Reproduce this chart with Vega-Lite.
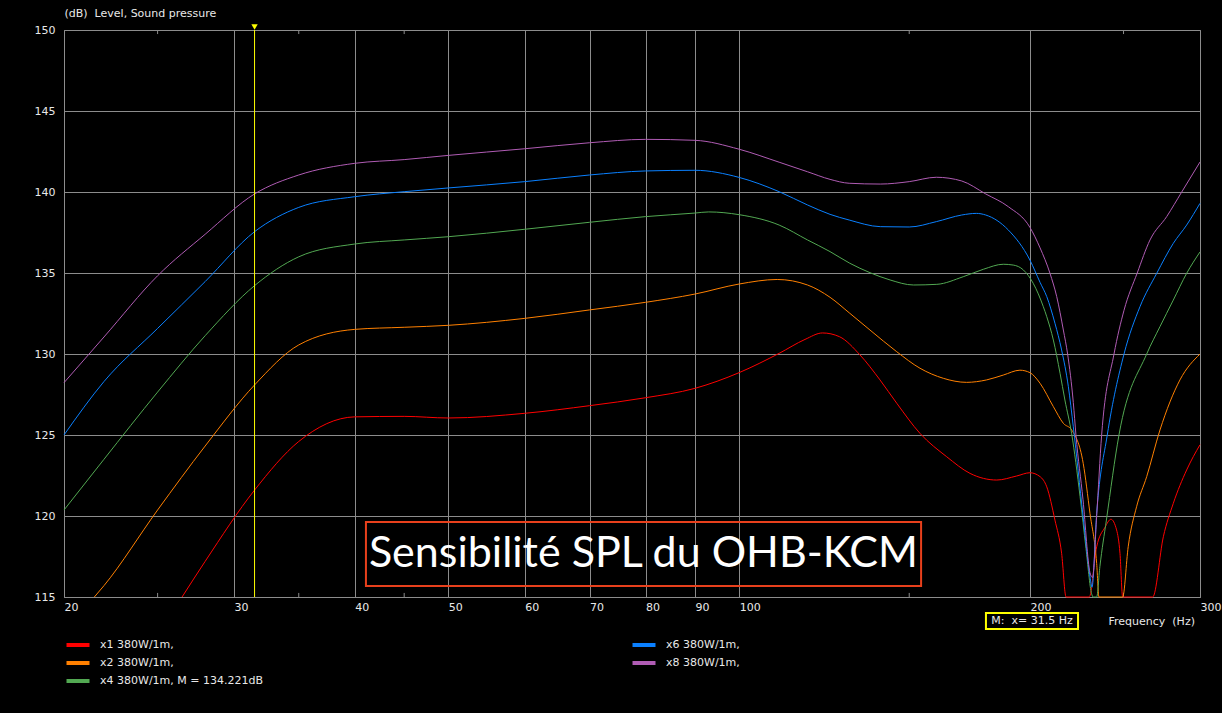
{
  "$schema": "https://vega.github.io/schema/vega-lite/v6.json",
  "width": 1136,
  "height": 567,
  "autosize": "none",
  "padding": {"left": 64, "top": 30, "right": 22, "bottom": 116},
  "background": "#000000",
  "config": {
    "view": {"stroke": "#8c8c8c", "fill": "#000000", "strokeWidth": 1},
    "font": "DejaVu Sans"
  },
  "datasets": {
    "curves": [
      {"series": "x1 380W/1m,", "freq": 26.5, "db": 115},
      {"series": "x1 380W/1m,", "freq": 28, "db": 117.2},
      {"series": "x1 380W/1m,", "freq": 31.5, "db": 121.6},
      {"series": "x1 380W/1m,", "freq": 35, "db": 124.6},
      {"series": "x1 380W/1m,", "freq": 40, "db": 126.12},
      {"series": "x1 380W/1m,", "freq": 45, "db": 126.15},
      {"series": "x1 380W/1m,", "freq": 50, "db": 126.05},
      {"series": "x1 380W/1m,", "freq": 60, "db": 126.34},
      {"series": "x1 380W/1m,", "freq": 70, "db": 126.81},
      {"series": "x1 380W/1m,", "freq": 80, "db": 127.3},
      {"series": "x1 380W/1m,", "freq": 90, "db": 127.88},
      {"series": "x1 380W/1m,", "freq": 100, "db": 128.85},
      {"series": "x1 380W/1m,", "freq": 110, "db": 130.04},
      {"series": "x1 380W/1m,", "freq": 117, "db": 130.9},
      {"series": "x1 380W/1m,", "freq": 122, "db": 131.3},
      {"series": "x1 380W/1m,", "freq": 127, "db": 131.07},
      {"series": "x1 380W/1m,", "freq": 133.4, "db": 129.94},
      {"series": "x1 380W/1m,", "freq": 139.9, "db": 128.4},
      {"series": "x1 380W/1m,", "freq": 145.6, "db": 126.96},
      {"series": "x1 380W/1m,", "freq": 153.9, "db": 125.1},
      {"series": "x1 380W/1m,", "freq": 164, "db": 123.66},
      {"series": "x1 380W/1m,", "freq": 173.4, "db": 122.63},
      {"series": "x1 380W/1m,", "freq": 184.8, "db": 122.22},
      {"series": "x1 380W/1m,", "freq": 193.8, "db": 122.47},
      {"series": "x1 380W/1m,", "freq": 200, "db": 122.67},
      {"series": "x1 380W/1m,", "freq": 204.9, "db": 122.43},
      {"series": "x1 380W/1m,", "freq": 208.2, "db": 121.8},
      {"series": "x1 380W/1m,", "freq": 212.3, "db": 119.75},
      {"series": "x1 380W/1m,", "freq": 215.7, "db": 117.7},
      {"series": "x1 380W/1m,", "freq": 218, "db": 115},
      {"series": "x1 380W/1m,", "freq": 230.4, "db": 115},
      {"series": "x1 380W/1m,", "freq": 234.5, "db": 118.1},
      {"series": "x1 380W/1m,", "freq": 239.2, "db": 119.3},
      {"series": "x1 380W/1m,", "freq": 242.6, "db": 119.8},
      {"series": "x1 380W/1m,", "freq": 245.9, "db": 119.14},
      {"series": "x1 380W/1m,", "freq": 247.9, "db": 117.7},
      {"series": "x1 380W/1m,", "freq": 249.5, "db": 115},
      {"series": "x1 380W/1m,", "freq": 268, "db": 115},
      {"series": "x1 380W/1m,", "freq": 274.9, "db": 118.72},
      {"series": "x1 380W/1m,", "freq": 281.5, "db": 120.78},
      {"series": "x1 380W/1m,", "freq": 290.6, "db": 122.84},
      {"series": "x1 380W/1m,", "freq": 300, "db": 124.4},

      {"series": "x2 380W/1m,", "freq": 21.5, "db": 115},
      {"series": "x2 380W/1m,", "freq": 22, "db": 115.7},
      {"series": "x2 380W/1m,", "freq": 25, "db": 120.37},
      {"series": "x2 380W/1m,", "freq": 28, "db": 124.32},
      {"series": "x2 380W/1m,", "freq": 31.5, "db": 128.09},
      {"series": "x2 380W/1m,", "freq": 35, "db": 130.56},
      {"series": "x2 380W/1m,", "freq": 40, "db": 131.52},
      {"series": "x2 380W/1m,", "freq": 45, "db": 131.65},
      {"series": "x2 380W/1m,", "freq": 50, "db": 131.77},
      {"series": "x2 380W/1m,", "freq": 60, "db": 132.2},
      {"series": "x2 380W/1m,", "freq": 70, "db": 132.72},
      {"series": "x2 380W/1m,", "freq": 80, "db": 133.19},
      {"series": "x2 380W/1m,", "freq": 90, "db": 133.7},
      {"series": "x2 380W/1m,", "freq": 100, "db": 134.32},
      {"series": "x2 380W/1m,", "freq": 109.5, "db": 134.6},
      {"series": "x2 380W/1m,", "freq": 117.7, "db": 134.26},
      {"series": "x2 380W/1m,", "freq": 124.2, "db": 133.5},
      {"series": "x2 380W/1m,", "freq": 130.2, "db": 132.51},
      {"series": "x2 380W/1m,", "freq": 136.6, "db": 131.48},
      {"series": "x2 380W/1m,", "freq": 145.6, "db": 130.14},
      {"series": "x2 380W/1m,", "freq": 153.9, "db": 129.12},
      {"series": "x2 380W/1m,", "freq": 162.7, "db": 128.5},
      {"series": "x2 380W/1m,", "freq": 172, "db": 128.25},
      {"series": "x2 380W/1m,", "freq": 180.4, "db": 128.4},
      {"series": "x2 380W/1m,", "freq": 187.7, "db": 128.7},
      {"series": "x2 380W/1m,", "freq": 195.3, "db": 129.0},
      {"series": "x2 380W/1m,", "freq": 200, "db": 128.85},
      {"series": "x2 380W/1m,", "freq": 204.9, "db": 128.19},
      {"series": "x2 380W/1m,", "freq": 211.5, "db": 126.75},
      {"series": "x2 380W/1m,", "freq": 216.6, "db": 125.72},
      {"series": "x2 380W/1m,", "freq": 221, "db": 125.3},
      {"series": "x2 380W/1m,", "freq": 227.1, "db": 123.25},
      {"series": "x2 380W/1m,", "freq": 230.8, "db": 120.16},
      {"series": "x2 380W/1m,", "freq": 234.5, "db": 117.07},
      {"series": "x2 380W/1m,", "freq": 235.8, "db": 115},
      {"series": "x2 380W/1m,", "freq": 249.5, "db": 115},
      {"series": "x2 380W/1m,", "freq": 252.8, "db": 118.1},
      {"series": "x2 380W/1m,", "freq": 257.9, "db": 120.57},
      {"series": "x2 380W/1m,", "freq": 264.2, "db": 122.43},
      {"series": "x2 380W/1m,", "freq": 272.7, "db": 125.31},
      {"series": "x2 380W/1m,", "freq": 286, "db": 128.4},
      {"series": "x2 380W/1m,", "freq": 300, "db": 130.0},

      {"series": "x4 380W/1m, M = 134.221dB", "freq": 20, "db": 120.37},
      {"series": "x4 380W/1m, M = 134.221dB", "freq": 22, "db": 123.5},
      {"series": "x4 380W/1m, M = 134.221dB", "freq": 25, "db": 127.65},
      {"series": "x4 380W/1m, M = 134.221dB", "freq": 28, "db": 131.13},
      {"series": "x4 380W/1m, M = 134.221dB", "freq": 31.5, "db": 134.22},
      {"series": "x4 380W/1m, M = 134.221dB", "freq": 35, "db": 136.0},
      {"series": "x4 380W/1m, M = 134.221dB", "freq": 40, "db": 136.79},
      {"series": "x4 380W/1m, M = 134.221dB", "freq": 45, "db": 137.04},
      {"series": "x4 380W/1m, M = 134.221dB", "freq": 50, "db": 137.24},
      {"series": "x4 380W/1m, M = 134.221dB", "freq": 60, "db": 137.7},
      {"series": "x4 380W/1m, M = 134.221dB", "freq": 70, "db": 138.13},
      {"series": "x4 380W/1m, M = 134.221dB", "freq": 80, "db": 138.48},
      {"series": "x4 380W/1m, M = 134.221dB", "freq": 90, "db": 138.7},
      {"series": "x4 380W/1m, M = 134.221dB", "freq": 93, "db": 138.77},
      {"series": "x4 380W/1m, M = 134.221dB", "freq": 100, "db": 138.6},
      {"series": "x4 380W/1m, M = 134.221dB", "freq": 110, "db": 137.96},
      {"series": "x4 380W/1m, M = 134.221dB", "freq": 117.7, "db": 137.04},
      {"series": "x4 380W/1m, M = 134.221dB", "freq": 124.2, "db": 136.32},
      {"series": "x4 380W/1m, M = 134.221dB", "freq": 130.2, "db": 135.6},
      {"series": "x4 380W/1m, M = 134.221dB", "freq": 136.6, "db": 135.02},
      {"series": "x4 380W/1m, M = 134.221dB", "freq": 143.3, "db": 134.57},
      {"series": "x4 380W/1m, M = 134.221dB", "freq": 151.5, "db": 134.26},
      {"series": "x4 380W/1m, M = 134.221dB", "freq": 160.2, "db": 134.3},
      {"series": "x4 380W/1m, M = 134.221dB", "freq": 170.6, "db": 134.77},
      {"series": "x4 380W/1m, M = 134.221dB", "freq": 179, "db": 135.23},
      {"series": "x4 380W/1m, M = 134.221dB", "freq": 187.7, "db": 135.54},
      {"series": "x4 380W/1m, M = 134.221dB", "freq": 192.2, "db": 135.49},
      {"series": "x4 380W/1m, M = 134.221dB", "freq": 196.9, "db": 135.19},
      {"series": "x4 380W/1m, M = 134.221dB", "freq": 201.6, "db": 134.36},
      {"series": "x4 380W/1m, M = 134.221dB", "freq": 206.5, "db": 132.92},
      {"series": "x4 380W/1m, M = 134.221dB", "freq": 208.2, "db": 132.3},
      {"series": "x4 380W/1m, M = 134.221dB", "freq": 211.5, "db": 130.86},
      {"series": "x4 380W/1m, M = 134.221dB", "freq": 214.9, "db": 128.81},
      {"series": "x4 380W/1m, M = 134.221dB", "freq": 217.4, "db": 127.16},
      {"series": "x4 380W/1m, M = 134.221dB", "freq": 220.9, "db": 125.1},
      {"series": "x4 380W/1m, M = 134.221dB", "freq": 225.4, "db": 121.2},
      {"series": "x4 380W/1m, M = 134.221dB", "freq": 228.6, "db": 118.0},
      {"series": "x4 380W/1m, M = 134.221dB", "freq": 231.7, "db": 115.2},
      {"series": "x4 380W/1m, M = 134.221dB", "freq": 232.5, "db": 115},
      {"series": "x4 380W/1m, M = 134.221dB", "freq": 234.5, "db": 115},
      {"series": "x4 380W/1m, M = 134.221dB", "freq": 236.3, "db": 116.87},
      {"series": "x4 380W/1m, M = 134.221dB", "freq": 240, "db": 119.75},
      {"series": "x4 380W/1m, M = 134.221dB", "freq": 247.3, "db": 125.0},
      {"series": "x4 380W/1m, M = 134.221dB", "freq": 264.2, "db": 130.0},
      {"series": "x4 380W/1m, M = 134.221dB", "freq": 272.7, "db": 131.69},
      {"series": "x4 380W/1m, M = 134.221dB", "freq": 281.5, "db": 133.33},
      {"series": "x4 380W/1m, M = 134.221dB", "freq": 290.6, "db": 134.98},
      {"series": "x4 380W/1m, M = 134.221dB", "freq": 300, "db": 136.3},

      {"series": "x6 380W/1m,", "freq": 20, "db": 125.0},
      {"series": "x6 380W/1m,", "freq": 22, "db": 128.3},
      {"series": "x6 380W/1m,", "freq": 25, "db": 131.58},
      {"series": "x6 380W/1m,", "freq": 28, "db": 134.47},
      {"series": "x6 380W/1m,", "freq": 31.5, "db": 137.55},
      {"series": "x6 380W/1m,", "freq": 35, "db": 139.05},
      {"series": "x6 380W/1m,", "freq": 40, "db": 139.71},
      {"series": "x6 380W/1m,", "freq": 45, "db": 140.02},
      {"series": "x6 380W/1m,", "freq": 50, "db": 140.25},
      {"series": "x6 380W/1m,", "freq": 60, "db": 140.64},
      {"series": "x6 380W/1m,", "freq": 70, "db": 141.05},
      {"series": "x6 380W/1m,", "freq": 80, "db": 141.3},
      {"series": "x6 380W/1m,", "freq": 90, "db": 141.34},
      {"series": "x6 380W/1m,", "freq": 100, "db": 140.9},
      {"series": "x6 380W/1m,", "freq": 110, "db": 140.02},
      {"series": "x6 380W/1m,", "freq": 117.7, "db": 139.2},
      {"series": "x6 380W/1m,", "freq": 124.2, "db": 138.62},
      {"series": "x6 380W/1m,", "freq": 130, "db": 138.27},
      {"series": "x6 380W/1m,", "freq": 140, "db": 137.86},
      {"series": "x6 380W/1m,", "freq": 150, "db": 137.84},
      {"series": "x6 380W/1m,", "freq": 160, "db": 138.17},
      {"series": "x6 380W/1m,", "freq": 170, "db": 138.58},
      {"series": "x6 380W/1m,", "freq": 176, "db": 138.68},
      {"series": "x6 380W/1m,", "freq": 180, "db": 138.58},
      {"series": "x6 380W/1m,", "freq": 190, "db": 137.65},
      {"series": "x6 380W/1m,", "freq": 200, "db": 135.8},
      {"series": "x6 380W/1m,", "freq": 204.9, "db": 134.42},
      {"series": "x6 380W/1m,", "freq": 208.2, "db": 133.54},
      {"series": "x6 380W/1m,", "freq": 212.3, "db": 131.9},
      {"series": "x6 380W/1m,", "freq": 215.7, "db": 130.25},
      {"series": "x6 380W/1m,", "freq": 219.2, "db": 127.98},
      {"series": "x6 380W/1m,", "freq": 221.8, "db": 125.51},
      {"series": "x6 380W/1m,", "freq": 227, "db": 120.0},
      {"series": "x6 380W/1m,", "freq": 230.8, "db": 116.25},
      {"series": "x6 380W/1m,", "freq": 231.9, "db": 115.6},
      {"series": "x6 380W/1m,", "freq": 234.5, "db": 120.16},
      {"series": "x6 380W/1m,", "freq": 240.5, "db": 125.0},
      {"series": "x6 380W/1m,", "freq": 250.3, "db": 130.0},
      {"series": "x6 380W/1m,", "freq": 260, "db": 132.92},
      {"series": "x6 380W/1m,", "freq": 270.6, "db": 134.98},
      {"series": "x6 380W/1m,", "freq": 281.5, "db": 136.83},
      {"series": "x6 380W/1m,", "freq": 290.6, "db": 137.96},
      {"series": "x6 380W/1m,", "freq": 300, "db": 139.3},

      {"series": "x8 380W/1m,", "freq": 20, "db": 128.23},
      {"series": "x8 380W/1m,", "freq": 22, "db": 131.05},
      {"series": "x8 380W/1m,", "freq": 25, "db": 134.83},
      {"series": "x8 380W/1m,", "freq": 28, "db": 137.39},
      {"series": "x8 380W/1m,", "freq": 31.5, "db": 139.88},
      {"series": "x8 380W/1m,", "freq": 35, "db": 141.05},
      {"series": "x8 380W/1m,", "freq": 40, "db": 141.77},
      {"series": "x8 380W/1m,", "freq": 45, "db": 142.0},
      {"series": "x8 380W/1m,", "freq": 50, "db": 142.26},
      {"series": "x8 380W/1m,", "freq": 60, "db": 142.67},
      {"series": "x8 380W/1m,", "freq": 70, "db": 143.04},
      {"series": "x8 380W/1m,", "freq": 80, "db": 143.25},
      {"series": "x8 380W/1m,", "freq": 90, "db": 143.19},
      {"series": "x8 380W/1m,", "freq": 100, "db": 142.64},
      {"series": "x8 380W/1m,", "freq": 110, "db": 141.84},
      {"series": "x8 380W/1m,", "freq": 117.7, "db": 141.25},
      {"series": "x8 380W/1m,", "freq": 124.2, "db": 140.78},
      {"series": "x8 380W/1m,", "freq": 130, "db": 140.54},
      {"series": "x8 380W/1m,", "freq": 140, "db": 140.49},
      {"series": "x8 380W/1m,", "freq": 150, "db": 140.64},
      {"series": "x8 380W/1m,", "freq": 160, "db": 140.91},
      {"series": "x8 380W/1m,", "freq": 170, "db": 140.68},
      {"series": "x8 380W/1m,", "freq": 180, "db": 139.88},
      {"series": "x8 380W/1m,", "freq": 190, "db": 139.09},
      {"series": "x8 380W/1m,", "freq": 200, "db": 137.82},
      {"series": "x8 380W/1m,", "freq": 204.9, "db": 136.55},
      {"series": "x8 380W/1m,", "freq": 209.8, "db": 134.98},
      {"series": "x8 380W/1m,", "freq": 213.2, "db": 133.54},
      {"series": "x8 380W/1m,", "freq": 216.6, "db": 131.48},
      {"series": "x8 380W/1m,", "freq": 218.8, "db": 130.0},
      {"series": "x8 380W/1m,", "freq": 221.8, "db": 127.0},
      {"series": "x8 380W/1m,", "freq": 223.2, "db": 125.0},
      {"series": "x8 380W/1m,", "freq": 227, "db": 121.0},
      {"series": "x8 380W/1m,", "freq": 230.8, "db": 116.5},
      {"series": "x8 380W/1m,", "freq": 232.2, "db": 116.2},
      {"series": "x8 380W/1m,", "freq": 234.5, "db": 120.0},
      {"series": "x8 380W/1m,", "freq": 237.3, "db": 125.0},
      {"series": "x8 380W/1m,", "freq": 244.4, "db": 130.0},
      {"series": "x8 380W/1m,", "freq": 250.3, "db": 132.7},
      {"series": "x8 380W/1m,", "freq": 258.3, "db": 135.0},
      {"series": "x8 380W/1m,", "freq": 266.3, "db": 137.04},
      {"series": "x8 380W/1m,", "freq": 277.1, "db": 138.48},
      {"series": "x8 380W/1m,", "freq": 287.2, "db": 140.0},
      {"series": "x8 380W/1m,", "freq": 300, "db": 141.85}
    ],
    "minorTicks": [
      {"freq": 25, "a": 115, "b": 115.25},
      {"freq": 35, "a": 115, "b": 115.25},
      {"freq": 45, "a": 115, "b": 115.25},
      {"freq": 150, "a": 115, "b": 115.25},
      {"freq": 250, "a": 115, "b": 115.25},
      {"freq": 25, "a": 149.75, "b": 150},
      {"freq": 35, "a": 149.75, "b": 150},
      {"freq": 45, "a": 149.75, "b": 150},
      {"freq": 150, "a": 149.75, "b": 150},
      {"freq": 250, "a": 149.75, "b": 150}
    ],
    "marker": [{"freq": 31.5, "top": 150, "bottom": 115}],
    "note": [{"from": 41.08, "to": 154.3, "low": 115.68, "high": 119.63, "mid": 79.6, "level": 117.65, "label": "Sensibilité SPL du OHB-KCM"}],
    "readout": [{"from": 180.1, "to": 224.3, "low": 113.02, "high": 114.01, "mid": 201.0, "level": 113.515, "label": "M:\u00a0 x= 31.5 Hz"}]
  },
  "layer": [
    {
      "data": {"name": "minorTicks"},
      "mark": {"type": "rule", "color": "#8c8c8c", "strokeWidth": 1},
      "encoding": {
        "x": {
          "field": "freq", "type": "quantitative",
          "scale": {"type": "log", "domain": [20, 300], "nice": false},
          "axis": {
            "values": [20, 30, 40, 50, 60, 70, 80, 90, 100, 200, 300],
            "format": "d",
            "labelAlign": "left", "labelBaseline": "top", "labelPadding": 4, "labelDx": 1,
            "labelFlush": false, "labelOverlap": false,
            "labelColor": "#e8e8e8", "labelFontSize": 11, "labelFont": "DejaVu Sans",
            "tickSize": 0, "domain": false,
            "grid": true, "gridColor": "#8c8c8c", "gridWidth": 1, "gridOpacity": 1,
            "title": "Frequency\u00a0 (Hz)", "titleX": 1044, "titleY": 24,
            "titleAlign": "left", "titleBaseline": "middle", "titleAnchor": null,
            "titleFontWeight": "normal", "titleFontSize": 11, "titleColor": "#e8e8e8", "titleFont": "DejaVu Sans"
          }
        },
        "y": {
          "field": "a", "type": "quantitative",
          "scale": {"domain": [115, 150], "nice": false, "zero": false},
          "axis": {
            "values": [115, 120, 125, 130, 135, 140, 145, 150],
            "labelPadding": 9, "labelBaseline": "middle", "labelFlush": false, "labelOverlap": false,
            "labelColor": "#e8e8e8", "labelFontSize": 11, "labelFont": "DejaVu Sans",
            "tickSize": 0, "domain": false,
            "grid": true, "gridColor": "#8c8c8c", "gridWidth": 1, "gridOpacity": 1,
            "title": "(dB)\u00a0 Level, Sound pressure", "titleAngle": 0, "titleX": 0, "titleY": -17,
            "titleAlign": "left", "titleBaseline": "middle", "titleAnchor": null,
            "titleFontWeight": "normal", "titleFontSize": 11, "titleColor": "#e8e8e8", "titleFont": "DejaVu Sans"
          }
        },
        "y2": {"field": "b"}
      }
    },
    {
      "data": {"name": "curves"},
      "mark": {"type": "line", "strokeWidth": 1, "interpolate": "monotone"},
      "encoding": {
        "x": {"field": "freq", "type": "quantitative"},
        "y": {"field": "db", "type": "quantitative"},
        "color": {
          "field": "series", "type": "nominal",
          "scale": {
            "domain": ["x1 380W/1m,", "x2 380W/1m,", "x4 380W/1m, M = 134.221dB", "x6 380W/1m,", "x8 380W/1m,"],
            "range": ["#ff0000", "#ff8000", "#52a852", "#0a80ff", "#b05cb4"]
          },
          "legend": {
            "orient": "none", "legendX": 4, "legendY": 605,
            "columns": 2, "columnPadding": 360, "rowPadding": 0,
            "symbolType": "M-1.5,0H1.5", "symbolSize": 235, "symbolStrokeWidth": 4,
            "labelColor": "#e8e8e8", "labelFontSize": 11, "labelFont": "DejaVu Sans", "labelLimit": 400, "labelOffset": 12,
            "title": null
          }
        }
      }
    },
    {
      "data": {"name": "marker"},
      "mark": {"type": "rule", "color": "#ffff00", "strokeWidth": 1},
      "encoding": {
        "x": {"field": "freq", "type": "quantitative"},
        "y": {"field": "top", "type": "quantitative"},
        "y2": {"field": "bottom"}
      }
    },
    {
      "data": {"name": "marker"},
      "mark": {"type": "point", "shape": "triangle-down", "filled": true, "color": "#ffff00", "size": 40, "opacity": 1, "yOffset": -3},
      "encoding": {
        "x": {"field": "freq", "type": "quantitative"},
        "y": {"field": "top", "type": "quantitative"}
      }
    },
    {
      "data": {"name": "note"},
      "mark": {"type": "rect", "filled": false, "stroke": "#e8401c", "strokeWidth": 2},
      "encoding": {
        "x": {"field": "from", "type": "quantitative"},
        "x2": {"field": "to"},
        "y": {"field": "low", "type": "quantitative"},
        "y2": {"field": "high"}
      }
    },
    {
      "data": {"name": "note"},
      "mark": {"type": "text", "color": "#ffffff", "font": "Lato", "fontSize": 43, "align": "center", "baseline": "middle"},
      "encoding": {
        "x": {"field": "mid", "type": "quantitative"},
        "y": {"field": "level", "type": "quantitative"},
        "text": {"field": "label"}
      }
    },
    {
      "data": {"name": "readout"},
      "mark": {"type": "rect", "filled": false, "stroke": "#ffff00", "strokeWidth": 2},
      "encoding": {
        "x": {"field": "from", "type": "quantitative"},
        "x2": {"field": "to"},
        "y": {"field": "low", "type": "quantitative"},
        "y2": {"field": "high"}
      }
    },
    {
      "data": {"name": "readout"},
      "mark": {"type": "text", "color": "#e8e8e8", "font": "DejaVu Sans", "fontSize": 11, "align": "center", "baseline": "middle"},
      "encoding": {
        "x": {"field": "mid", "type": "quantitative"},
        "y": {"field": "level", "type": "quantitative"},
        "text": {"field": "label"}
      }
    }
  ]
}
